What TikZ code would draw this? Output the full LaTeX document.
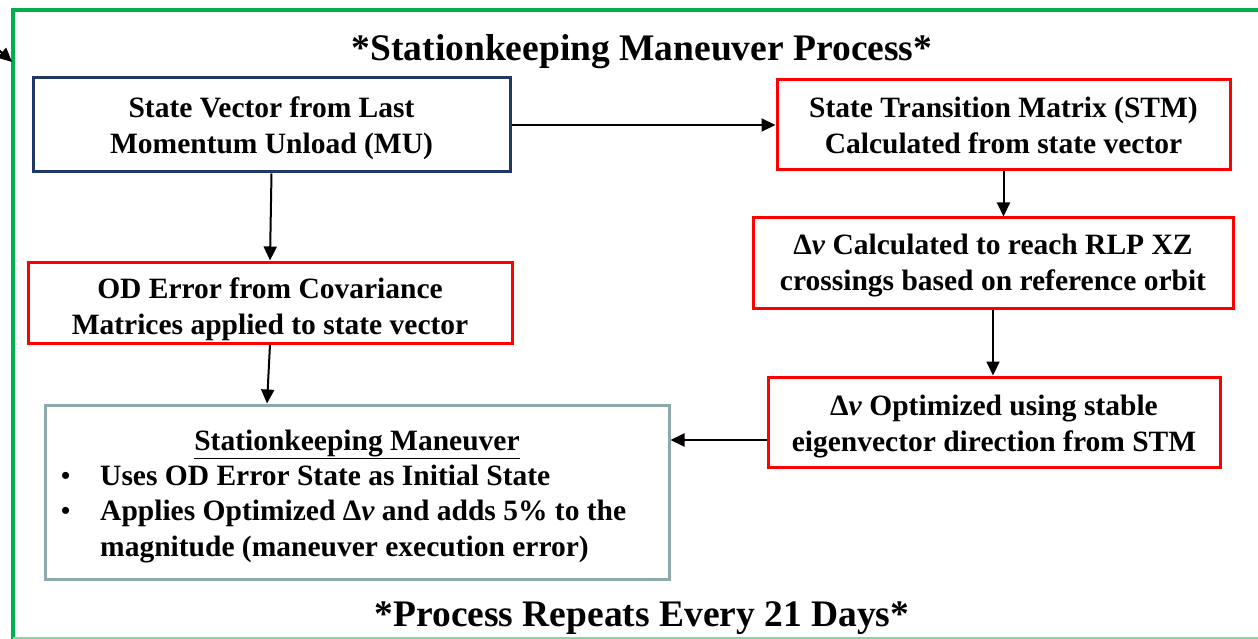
\documentclass[tikz,border=0pt]{standalone}
\usepackage{fontspec}
\setmainfont{Liberation Serif}
\usetikzlibrary{arrows.meta}
\definecolor{navy}{HTML}{1F3864}
\definecolor{skgray}{HTML}{8EA9AB}
\definecolor{frgreen}{HTML}{00B050}
\definecolor{lightgreen}{HTML}{7FD9A0}
\newcommand{\dv}{{Δ\textit{v}}}
\begin{document}
\begin{tikzpicture}[x=1pt,y=-1pt,
  box/.style={draw, line width=3pt, fill=white, inner sep=0pt},
  redbox/.style={box, draw=red},
  boxtxt/.style={inner sep=0pt, align=center, font=\bfseries\fontsize{29.5}{36}\selectfont},
  txt/.style={inner sep=0pt, anchor=base west, font=\bfseries\fontsize{29.5}{36}\selectfont},
  bigtxt/.style={inner sep=0pt, anchor=base, font=\bfseries\fontsize{37.5}{40}\selectfont},
  conn/.style={-{Triangle[length=14pt,width=13pt]}, line width=2pt}]
\useasboundingbox (0,0) rectangle (1258,639);
% frame
\draw[frgreen, line width=4pt] (13,645) -- (13,10) -- (1265,10);
\draw[lightgreen, line width=2pt] (13,638) -- (1265,638);
\coordinate (tlstart) at (-10,42);
\coordinate (tlend) at (12,62);
\draw[conn] (tlstart) -- (tlend);
% titles
\node[bigtxt] (title) at (642,61) {*Stationkeeping Maneuver Process*};
\node[bigtxt] (foot) at (642,626) {*Process Repeats Every 21 Days*};
% boxes
\node[box, draw=navy, minimum width=477pt, minimum height=94pt] (mu) at (271.5,125) {};
\node[boxtxt] (mut) at ([yshift=-3pt]mu.center) {State Vector from Last\\Momentum Unload (MU)};
\node[redbox, minimum width=453pt, minimum height=90pt] (stm) at (1003.5,125) {};
\node[boxtxt] (stmt) at ([yshift=0pt]stm.center) {State Transition Matrix (STM)\\Calculated from state vector};
\node[redbox, minimum width=480pt, minimum height=90pt] (dvc) at (993,263) {};
\node[boxtxt] (dvct) at ([yshift=-3pt]dvc.center) {\dv{} Calculated to reach RLP XZ\\crossings based on reference orbit};
\node[redbox, minimum width=484pt, minimum height=81pt] (od) at (270,302.5) {};
\node[boxtxt] (odt) at ([yshift=-7pt]od.center) {OD Error from Covariance\\Matrices applied to state vector};
\node[redbox, minimum width=452pt, minimum height=90pt] (dvo) at (994,422) {};
\node[boxtxt] (dvot) at ([yshift=-5pt]dvo.center) {\dv{} Optimized using stable\\eigenvector direction from STM};
\node[box, draw=skgray, minimum width=624pt, minimum height=174pt] (sk) at (357,492) {};
\node[txt, anchor=base] (skhead) at (357,450) {\underline{Stationkeeping Maneuver}};
\node[txt, font=\bfseries\fontsize{26}{30}\selectfont] (b1) at (61,484) {•};
\node[txt] (t1) at (100,485) {Uses OD Error State as Initial State};
\node[txt, font=\bfseries\fontsize{26}{30}\selectfont] (b2) at (61,519) {•};
\node[txt] (t2) at (100,520) {Applies Optimized \dv{} and adds 5\% to the};
\node[txt] (t3) at (100,556) {magnitude (maneuver execution error)};
% connectors
\draw[conn] (mu.east) -- (stm.west);
\draw[conn] (mu.south) -- (od.north);
\draw[conn] (stm.south) -- (stm.south |- dvc.north);
\draw[conn] (dvc.south) -- (dvc.south |- dvo.north);
\draw[conn] (od.south) -- ([xshift=-3pt]od.south |- sk.north);
\draw[conn] ([yshift=-18pt]dvo.west) -- ([yshift=-18pt]dvo.west -| sk.east);
\end{tikzpicture}
\end{document}
